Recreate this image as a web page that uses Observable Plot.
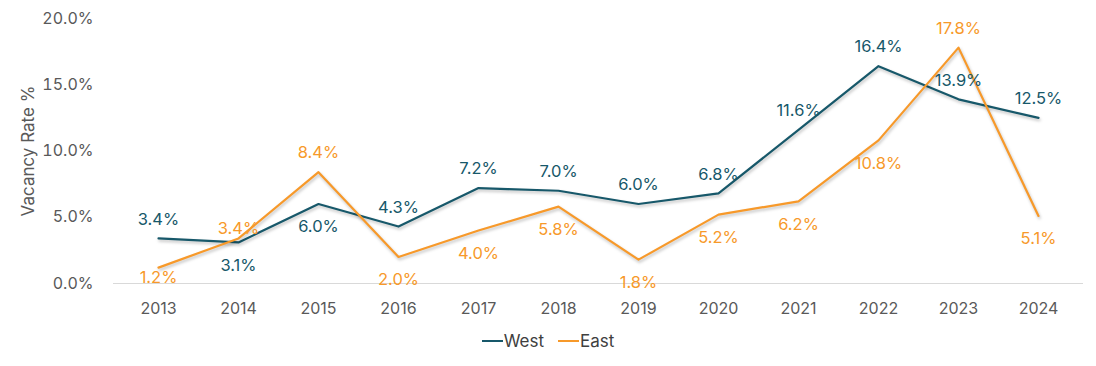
<!DOCTYPE html>
<html>
<head>
<meta charset="utf-8">
<script src="https://cdn.jsdelivr.net/npm/d3@7"></script>
<script src="https://cdn.jsdelivr.net/npm/@observablehq/plot@0.6"></script>
<style>
  html, body { margin: 0; padding: 0; background: #fff; }
  body { width: 1096px; height: 366px; overflow: hidden; font-family: Inter, "Open Sans", sans-serif; }
  #chart svg { display: block; }
  .line-shadow path { filter: drop-shadow(1px 2px 1.5px rgba(0,0,0,0.25)); }
  #legend { display: flex; justify-content: center; align-items: center; gap: 14px; font-size: 17px; color: #404040; margin-top: 9px; }
  #legend span.item { display: flex; align-items: center; }
  #legend span.sw { display: inline-block; width: 21px; height: 2.5px; margin-right: 1px; }
</style>
</head>
<body>
<div id="chart"></div>
<div id="legend"></div>
<script>
const years = ["2013","2014","2015","2016","2017","2018","2019","2020","2021","2022","2023","2024"];
const west = [3.4, 3.1, 6.0, 4.3, 7.2, 7.0, 6.0, 6.8, 11.6, 16.4, 13.9, 12.5];
const east = [1.2, 3.4, 8.4, 2.0, 4.0, 5.8, 1.8, 5.2, 6.2, 10.8, 17.8, 5.1];
// label placement relative to each point: above / below / near-above / near-below
const westLabelPos = ["above","below","below","above","above","above","above","above","above","above","above","above"];
const eastLabelPos = ["nearBelow","nearAbove","above","below","below","below","below","below","below","below","above","below"];
const yTicks = [0, 5, 10, 15, 20];
const seriesNames = ["West", "East"];
const seriesColors = ["#17586a", "#f7992a"];
const yTitle = "Vacancy Rate %";

const rows = [];
years.forEach((yr, i) => {
  rows.push({year: yr, value: west[i], series: "West", pos: westLabelPos[i]});
  rows.push({year: yr, value: east[i], series: "East", pos: eastLabelPos[i]});
});
const colorOf = s => seriesColors[seriesNames.indexOf(s)];
const offsets = {above: -19, below: 23, nearAbove: -10, nearBelow: 10};
const labelMark = pos => Plot.text(rows.filter(d => d.pos === pos), {
  x: "year", y: "value", text: d => d.value.toFixed(1) + "%", dy: offsets[pos],
  fill: d => colorOf(d.series), fontSize: 16.5
});

const plot = Plot.plot({
  width: 1096,
  height: 322,
  marginTop: 18,
  marginBottom: 39,
  marginLeft: 113,
  marginRight: 13,
  style: {fontFamily: "Inter, 'Open Sans', sans-serif", fontSize: "16px", color: "#595959", background: "#fff"},
  x: {type: "point", domain: years, padding: 0.5, label: null},
  y: {domain: [0, 20], label: null},
  marks: [
    Plot.ruleY([0], {stroke: "#d9d9d9", strokeWidth: 1}),
    Plot.axisY({ticks: yTicks, tickFormat: d => d.toFixed(1) + "%", tickSize: 0, tickPadding: 20, fontSize: 16, fill: "#595959", label: null}),
    Plot.text([yTitle], {frameAnchor: "left", textAnchor: "middle", dx: -85, rotate: -90, fontSize: 17, fill: "#595959"}),
    Plot.axisX({tickSize: 0, tickPadding: 19, fontSize: 16, fill: "#595959", label: null}),
    Plot.line(rows, {x: "year", y: "value", z: "series", stroke: d => colorOf(d.series), strokeWidth: 2.2, className: "line-shadow"}),
    labelMark("above"),
    labelMark("below"),
    labelMark("nearAbove"),
    labelMark("nearBelow")
  ]
});
document.getElementById("chart").appendChild(plot);

const legend = document.getElementById("legend");
seriesNames.forEach((s, i) => {
  const item = document.createElement("span");
  item.className = "item";
  const sw = document.createElement("span");
  sw.className = "sw";
  sw.style.background = seriesColors[i];
  item.appendChild(sw);
  item.appendChild(document.createTextNode(s));
  legend.appendChild(item);
});
</script>
</body>
</html>
